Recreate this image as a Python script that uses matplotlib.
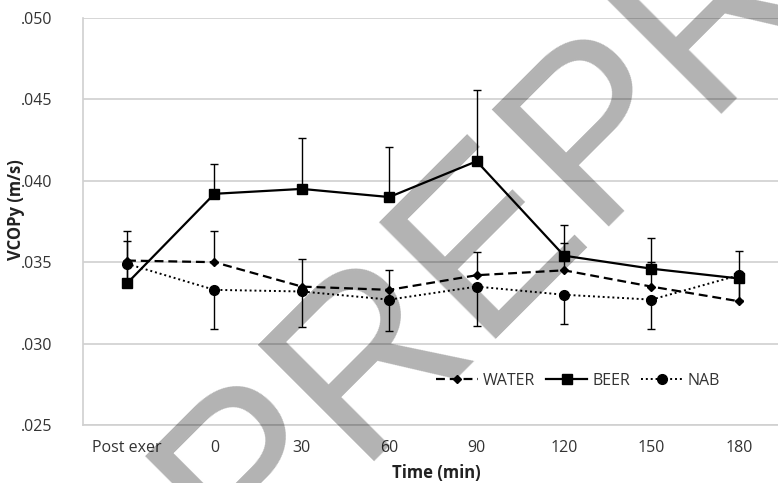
import numpy as np
from matplotlib import pyplot as plt
from matplotlib.ticker import FuncFormatter

# data
times = ["Post exer", "0", "30", "60", "90", "120", "150", "180"]
water = [0.0351, 0.0350, 0.0335, 0.0333, 0.0342, 0.0345, 0.0335, 0.0326]
water_err = [0.0012, 0.0019, 0.0017, 0.0012, 0.0014, 0.0017, 0.0015, 0.0015]
beer = [0.0337, 0.0392, 0.0395, 0.0390, 0.0412, 0.0354, 0.0346, 0.0340]
beer_err = [0.0032, 0.0018, 0.0031, 0.0031, 0.0044, 0.0019, 0.0019, 0.0017]
nab = [0.0349, 0.0333, 0.0332, 0.0327, 0.0335, 0.0330, 0.0327, 0.0342]
nab_err = [0.0014, 0.0024, 0.0022, 0.0019, 0.0024, 0.0018, 0.0018, 0.0015]

plt.rcParams['font.family'] = ['Open Sans', 'DejaVu Sans']

fig = plt.figure(figsize=(7.78, 4.83), dpi=100)
ax = fig.add_axes([0.1071, 0.1201, 0.8988, 0.8427])
x = np.arange(len(times))

zero = [0] * len(times)
ax.errorbar(x, water, yerr=[zero, water_err], fmt='none', ecolor='black',
            elinewidth=1, capsize=2.6, capthick=1, zorder=3)
ax.errorbar(x, beer, yerr=[zero, beer_err], fmt='none', ecolor='black',
            elinewidth=1, capsize=2.6, capthick=1, zorder=3)
ax.errorbar(x, nab, yerr=[nab_err, zero], fmt='none', ecolor='black',
            elinewidth=1, capsize=2.6, capthick=1, zorder=3)

ax.plot(x, water, color='black', lw=1.6, ls=(0, (4, 2.2)), marker='D',
        markersize=4.5, label='WATER', zorder=4)
ax.plot(x, beer, color='black', lw=1.6, ls='-', marker='s',
        markersize=7, label='BEER', zorder=4)
ax.plot(x, nab, color='black', lw=1.4, ls=(0, (1, 1.5)), marker='o',
        markersize=7, label='NAB', zorder=4)

ax.set_xlim(-0.5, 7.5)
ax.set_ylim(0.025, 0.050)
ax.set_yticks(np.arange(0.025, 0.0501, 0.005))
ax.yaxis.set_major_formatter(FuncFormatter(lambda v, p: ("%.3f" % v)[1:]))
ax.set_xticks(x)
ax.set_xticklabels(times)
ax.tick_params(axis='both', length=0, labelsize=11.5, labelcolor='#333333')
ax.tick_params(axis='y', pad=22)
ax.tick_params(axis='x', pad=11)

ax.grid(axis='y', color='#d0d0d0', lw=1.2, zorder=0)
ax.set_axisbelow(True)
for s in ['top', 'right']:
    ax.spines[s].set_visible(False)
ax.spines['left'].set_color('#d0d0d0')
ax.spines['bottom'].set_color('#d0d0d0')
ax.spines['left'].set_linewidth(1.2)
ax.spines['bottom'].set_linewidth(1.2)

fig.text(0.020, 0.567, "VCOPy (m/s)", rotation=90, ha='center', va='center',
         fontsize=12, fontweight='bold', color='#222222')
fig.text(0.561, 0.021, "Time (min)", ha='center', va='center',
         fontsize=12, fontweight='bold', color='#222222')

fig.legend(loc='center', bbox_to_anchor=(0.743, 0.211), ncol=3, frameon=False,
           fontsize=11.5, handlelength=2.6, handletextpad=0.3, columnspacing=0.7,
           labelcolor='#333333')

# watermark on top, see-through
fig.text(0.311, -0.1863, "PREPRINT", rotation=45, rotation_mode='anchor',
         ha='left', va='baseline', fontsize=172, color='black', alpha=0.3,
         family='Liberation Sans', zorder=10)

fig.savefig("out.png", dpi=100)
